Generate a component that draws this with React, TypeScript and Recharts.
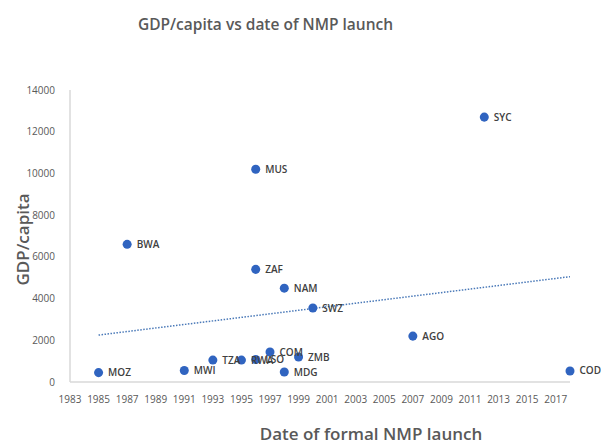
import React from "react";
import {
  ScatterChart,
  Scatter,
  XAxis,
  YAxis,
  ReferenceLine,
  LabelList,
} from "recharts";

const codes = ["MOZ", "BWA", "MWI", "TZA", "RWA", "LSO", "MUS", "ZAF", "COM", "MDG", "NAM", "ZMB", "SWZ", "AGO", "SYC", "COD"];
const years = [1985, 1987, 1991, 1993, 1995, 1996, 1996, 1996, 1997, 1998, 1998, 1999, 2000, 2007, 2012, 2018];
const gdp = [450, 6600, 550, 1050, 1050, 1080, 10200, 5400, 1440, 480, 4500, 1200, 3550, 2200, 12700, 530];

const xTicks = [1983, 1985, 1987, 1989, 1991, 1993, 1995, 1997, 1999, 2001, 2003, 2005, 2007, 2009, 2011, 2013, 2015, 2017];
const yTicks = [0, 2000, 4000, 6000, 8000, 10000, 12000, 14000];

const trendYears = [1985, 2018];
const trendValues = [2250, 5050];

const data = codes.map((c, i) => ({ code: c, x: years[i], y: gdp[i] }));

const FONT = "'Open Sans', 'Liberation Sans', sans-serif";
const GREY = "#595959";
const BLUE = "#3064c0";

export default function App() {
  return (
    <div style={{ position: "absolute", left: 0, top: 0, width: 601, height: 445, background: "#fff", fontFamily: FONT }}>
      <ScatterChart width={601} height={445} margin={{ top: 90, right: 31, bottom: 38, left: 10 }}>
        <XAxis
          type="number"
          dataKey="x"
          domain={[1983, 2018]}
          ticks={xTicks}
          interval={0}
          tickLine={false}
          axisLine={{ stroke: "#d9d9d9", strokeWidth: 1.5 }}
          tick={{ fill: GREY, fontSize: 10, fontFamily: FONT }}
          tickMargin={8}
          height={25}
        />
        <YAxis
          type="number"
          dataKey="y"
          domain={[0, 14000]}
          ticks={yTicks}
          interval={0}
          tickLine={false}
          axisLine={{ stroke: "#d9d9d9", strokeWidth: 1.5 }}
          tick={{ fill: GREY, fontSize: 10, fontFamily: FONT }}
          tickMargin={9}
          width={60}
        />
        <ReferenceLine
          segment={[
            { x: trendYears[0], y: trendValues[0] },
            { x: trendYears[1], y: trendValues[1] },
          ]}
          stroke="#4a79b8"
          strokeWidth={1.5}
          strokeDasharray="1.5 1.5"
          ifOverflow="visible"
        />
        <Scatter data={data} fill={BLUE} isAnimationActive={false} shape="circle">
          <LabelList
            dataKey="code"
            position="right"
            offset={5}
            style={{ fill: "#404040", fontSize: 10, fontWeight: 600, fontFamily: FONT }}
          />
        </Scatter>
      </ScatterChart>
      <div
        style={{
          position: "absolute",
          top: 13,
          left: 0,
          width: 531,
          textAlign: "center",
          fontSize: 15.5,
          fontWeight: 600,
          color: GREY,
          whiteSpace: "nowrap",
        }}
      >
        GDP/capita vs date of NMP launch
      </div>
      <div
        style={{
          position: "absolute",
          top: 422,
          left: 200,
          width: 342,
          textAlign: "center",
          fontSize: 17,
          fontWeight: 600,
          color: GREY,
          whiteSpace: "nowrap",
        }}
      >
        Date of formal NMP launch
      </div>
      <div
        style={{
          position: "absolute",
          top: 240,
          left: 22,
          width: 0,
          height: 0,
        }}
      >
        <div
          style={{
            position: "absolute",
            left: -70,
            top: -12,
            width: 140,
            textAlign: "center",
            fontSize: 17,
            fontWeight: 600,
            color: GREY,
            whiteSpace: "nowrap",
            transform: "rotate(-90deg)",
          }}
        >
          GDP/capita
        </div>
      </div>
    </div>
  );
}
